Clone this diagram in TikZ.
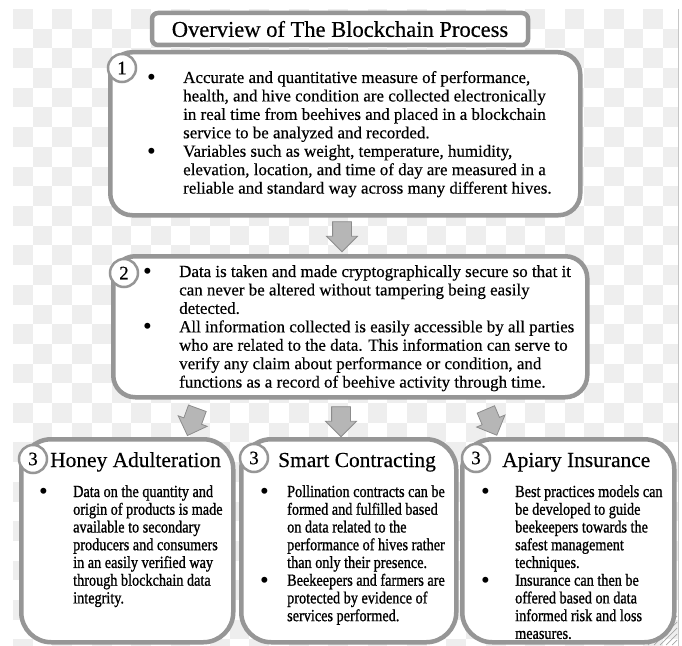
\documentclass[tikz,border=0pt]{standalone}
\usepackage{fontspec}
\setmainfont{Liberation Serif}[FakeBold=0.4]
\newfontfamily\condfont{Liberation Serif}[FakeStretch=0.84,FakeBold=1]
\newfontfamily\bulfont{Liberation Serif}
\usetikzlibrary{shapes.arrows}
\definecolor{bordergray}{RGB}{150,150,150}
\definecolor{arrowfill}{RGB}{182,182,182}
\definecolor{arrowline}{RGB}{140,140,140}
\definecolor{checkgray}{RGB}{238,238,238}
\newcommand\bigbul{\raisebox{-2.6bp}{\bulfont\fontsize{25}{25}\selectfont\textbullet}}
\newcommand\bulitem[2]{\par\noindent\hangindent=#1\hangafter=1\makebox[#1][l]{\bigbul}#2\par}
\newcommand\topfont{\fontsize{17}{18.5}\selectfont}
\newcommand\lowfont{\condfont\fontsize{17}{17.8}\selectfont}
\tikzset{
  panel/.style={draw=bordergray, line width=4.5bp, fill=white, rounded corners=#1,
    inner sep=0pt, anchor=north west},
  numcirc/.style={circle, draw=bordergray, line width=2.5bp, fill=white,
    minimum size=28bp, inner sep=0pt, font=\fontsize{19}{19}\selectfont},
  blockarr/.style={single arrow, draw=arrowline, fill=arrowfill, line width=0.8bp,
    inner xsep=0pt, inner ysep=9bp, single arrow head extend=6bp,
    minimum height=30bp, single arrow tip angle=90},
  bodytext/.style={anchor=base west, inner sep=0pt},
  heading/.style={anchor=base west, inner sep=0pt, font=\fontsize{21.5}{22}\selectfont}
}
\begin{document}
\begin{tikzpicture}[x=1bp, y=-1bp]
\useasboundingbox (0,0) rectangle (682,646);
\fill[white] (0,0) rectangle (682,646);
% checkerboard background
\begin{scope}
  \clip (13,9) rectangle (678,646);
  \foreach \i in {0,...,33}{
    \foreach \j in {0,...,32}{
      \pgfmathtruncatemacro\chk{mod(\i+\j,2)}
      \ifnum\chk=0
        \fill[checkgray] ({13+19.7*\i},{9+19.7*\j}) rectangle ++(19.7,19.7);
      \fi
    }
  }
\end{scope}
\draw[gray!45, line width=0.8bp] (678,9) -- (678,646);
\foreach \k in {1,...,5}{
  \draw[gray!70, line width=0.7bp] ({678-6*\k},645) -- (677,{646-6*\k});
}

% title
\node[draw=bordergray, line width=4.5bp, fill=white, rounded corners=6bp,
  minimum width=376bp, minimum height=32bp, inner sep=0pt,
  font=\fontsize{22.6}{24}\selectfont] (title) at (340,29) {Overview of The Blockchain Process};

% box 1
\node[panel=22bp, minimum width=470bp, minimum height=163bp] (b1) at (108,50) {};
\node[bodytext, font=\topfont] (t1) at (147,83) {\parbox[t]{440bp}{\parskip=0pt
\bulitem{36bp}{Accurate and quantitative measure of performance,\newline
health, and hive condition are collected electronically\newline
in real time from beehives and placed in a blockchain\newline
service to be analyzed and recorded.}
\bulitem{36bp}{Variables such as weight, temperature, humidity,\newline
elevation, location, and time of day are measured in a\newline
reliable and standard way across many different hives.}}};
\node[numcirc] (c1) at (122,68) {1};

% arrow 1 -> 2
\node[blockarr, rotate=-90] (a12) at (342,232) {};

% box 2
\node[panel=22bp, minimum width=474bp, minimum height=141bp] (b2) at (111,254) {};
\node[bodytext, font=\topfont] (t2) at (143,277) {\parbox[t]{450bp}{\parskip=0pt
\bulitem{36bp}{Data is taken and made cryptographically secure so that it\newline
can never be altered without tampering being easily\newline
detected.}
\bulitem{36bp}{All information collected is easily accessible by all parties\newline
who are related to the data. This information can serve to\newline
verify any claim about performance or condition, and\newline
functions as a record of beehive activity through time.}}};
\node[numcirc] (c2) at (124,273) {2};

% arrows 2 -> 3
\node[blockarr, rotate=-110, minimum height=29bp] (a2a) at (194,417.5) {};
\node[blockarr, rotate=-90] (a2b) at (341,417) {};
\node[blockarr, rotate=-67, minimum height=28bp] (a2c) at (489.5,418) {};

% bottom boxes
\node[panel=30bp, minimum width=212bp, minimum height=203bp] (ba) at (19,437) {};
\node[panel=30bp, minimum width=215bp, minimum height=203bp] (bb) at (239,437) {};
\node[panel=30bp, minimum width=212bp, minimum height=203bp] (bc) at (460,437) {};

\node[heading] (ha) at (50,467) {Honey Adulteration};
\node[heading] (hb) at (278,467) {Smart Contracting};
\node[heading] (hc) at (502,467) {Apiary Insurance};

\node[bodytext, font=\lowfont] (ta) at (39,497) {\parbox[t]{200bp}{\parskip=0pt
\bulitem{34bp}{Data on the quantity and\newline
origin of products is made\newline
available to secondary\newline
producers and consumers\newline
in an easily verified way\newline
through blockchain data\newline
integrity.}}};
\node[bodytext, font=\lowfont] (tb) at (260,497) {\parbox[t]{200bp}{\parskip=0pt
\bulitem{27bp}{Pollination contracts can be\newline
formed and fulfilled based\newline
on data related to the\newline
performance of hives rather\newline
than only their presence.}
\bulitem{27bp}{Beekeepers and farmers are\newline
protected by evidence of\newline
services performed.}}};
\node[bodytext, font=\lowfont] (tc) at (481,497) {\parbox[t]{200bp}{\parskip=0pt
\bulitem{34bp}{Best practices models can\newline
be developed to guide\newline
beekeepers towards the\newline
safest management\newline
techniques.}
\bulitem{34bp}{Insurance can then be\newline
offered based on data\newline
informed risk and loss\newline
measures.}}};

\node[numcirc] (c3a) at (33,459) {3};
\node[numcirc] (c3b) at (254,458) {3};
\node[numcirc] (c3c) at (476,458) {3};
\end{tikzpicture}
\end{document}
